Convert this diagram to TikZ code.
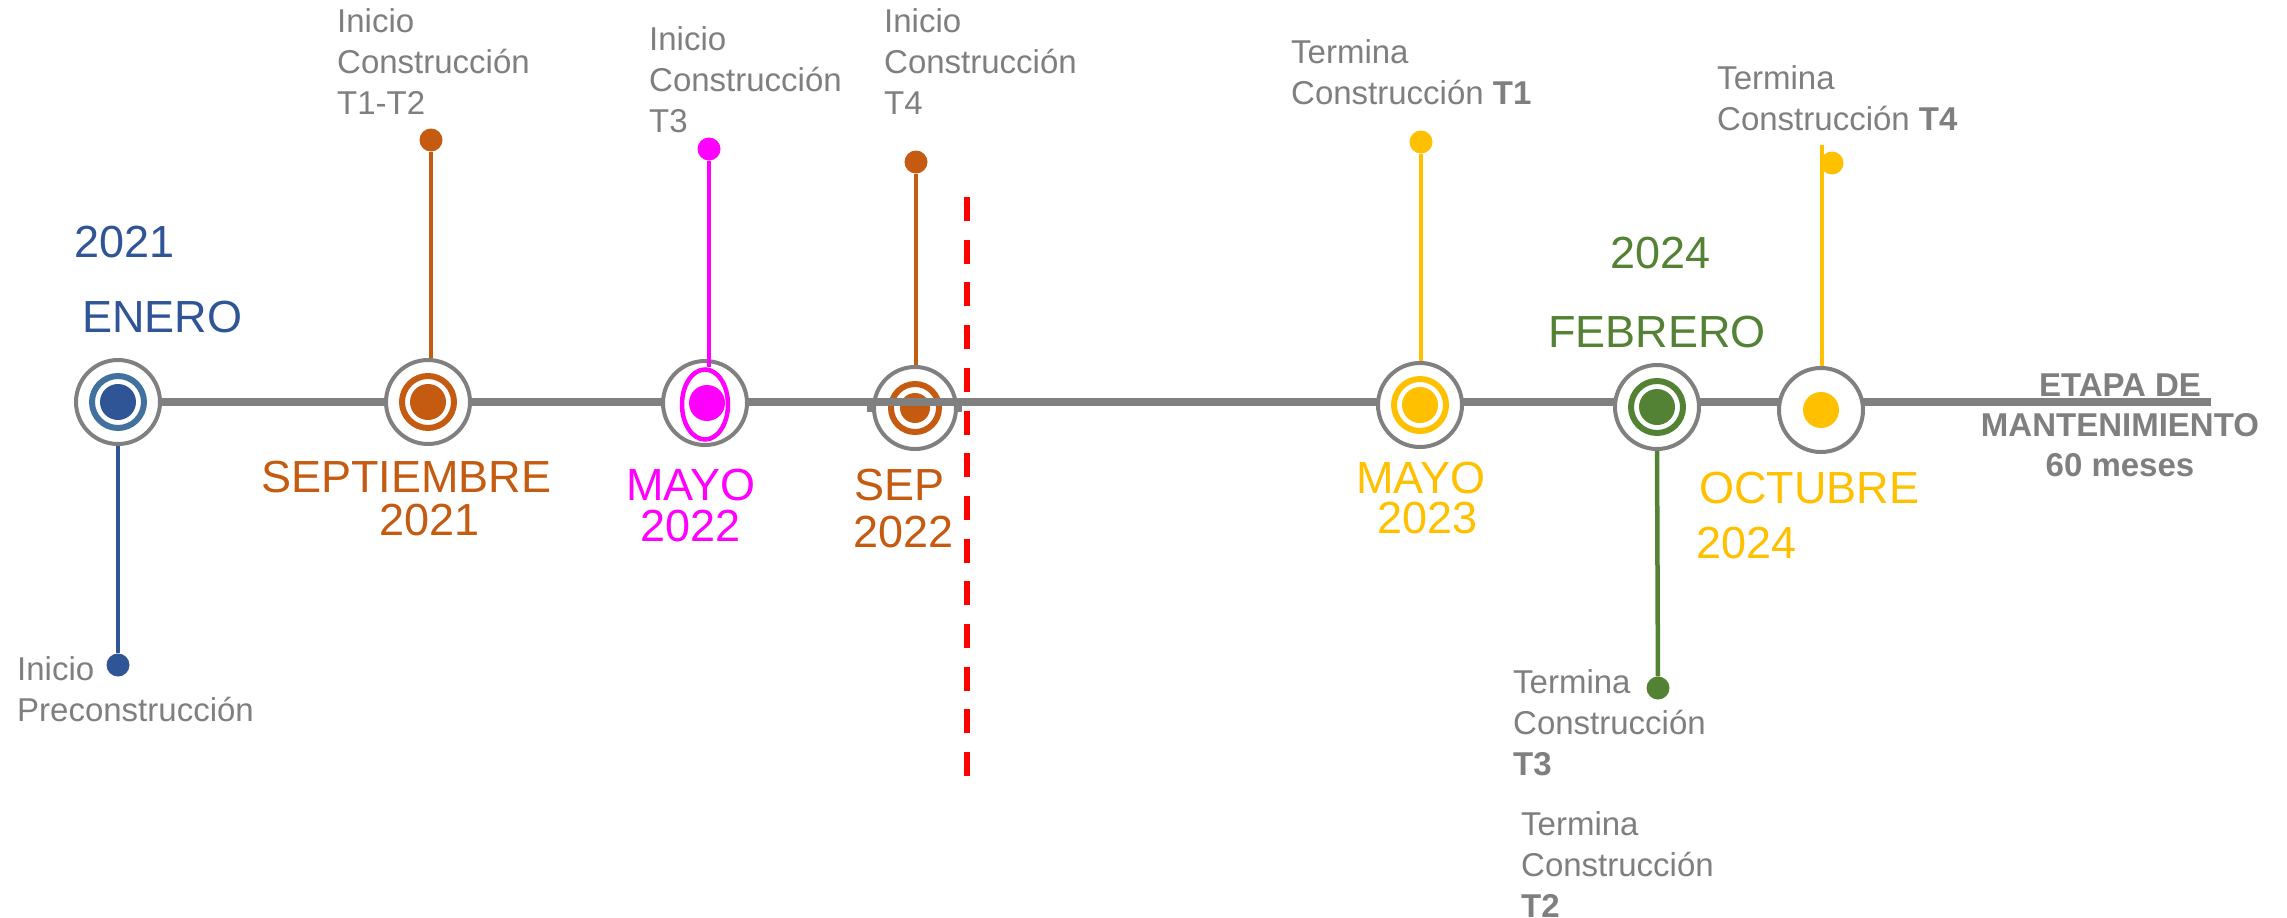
\documentclass[tikz,border=0pt]{standalone}
\usepackage{fontspec}
\setmainfont{Liberation Sans}
\usetikzlibrary{shapes.geometric}
\definecolor{tlgray}{HTML}{808080}
\definecolor{txtgray}{HTML}{7F7F7F}
\definecolor{cblue}{HTML}{2F5597}
\definecolor{cblueR}{HTML}{41719C}
\definecolor{corange}{HTML}{C55A11}
\definecolor{cmag}{HTML}{FF00FF}
\definecolor{cyel}{HTML}{FFC000}
\definecolor{cgreen}{HTML}{548235}
\definecolor{cred}{HTML}{FF0000}
\tikzset{
  outerc/.style={circle, draw=tlgray, line width=4pt, fill=white, minimum size=84pt, inner sep=0pt},
  ringc/.style={circle, draw=#1, line width=6pt, minimum size=52pt, inner sep=0pt},
  dotc/.style={circle, fill=#1, minimum size=36pt, inner sep=0pt},
  pinc/.style={circle, fill=#1, minimum size=23pt, inner sep=0pt},
  conn/.style={draw=#1, line width=4.5pt},
  big/.style={text=#1, font=\fontsize{45}{54}\selectfont, anchor=base west, inner sep=0pt},
  lbl/.style={text=txtgray, font=\fontsize{33}{41}\selectfont, align=left, anchor=north west, inner sep=0pt},
  timeline/.style={draw=tlgray, line width=8pt}
}
\begin{document}
\begin{tikzpicture}[x=1pt, y=-1pt]
\useasboundingbox[fill=white] (0,0) rectangle (2287,918);
% timeline
\coordinate (tlstart) at (118,402);
\coordinate (tlend) at (2211,402);
\draw[timeline] (tlstart) -- (tlend);
% red dashed separator
\coordinate (rtop) at (967,197);
\coordinate (rbot) at (967,792);
\draw[cred, line width=6pt, dash pattern=on 24pt off 18.7pt] (rtop) -- (rbot);
% nub bar under SEP 2022
\fill[tlgray] (867,398) rectangle (962,412);
% circles
\node[outerc] (c1) at (118,402) {};
\node[ringc=cblueR] (c1r) at (118,402) {};
\node[dotc=cblue] (c1d) at (118,402) {};

\node[outerc] (c2) at (428,402) {};
\node[ringc=corange] (c2r) at (428,402) {};
\node[dotc=corange] (c2d) at (428,402) {};

\node[outerc] (c3) at (705,403) {};
\node[ellipse, draw=cmag, line width=4.5pt, minimum width=46pt, minimum height=70pt, inner sep=0pt] (c3r) at (705,404.5) {};
\node[dotc=cmag] (c3d) at (707,403) {};

\node[outerc, minimum size=82pt] (c4) at (915,408) {};
\node[ringc=corange, minimum size=48pt] (c4r) at (915,408) {};
\node[dotc=corange, minimum size=30pt] (c4d) at (915,408) {};
\draw[timeline] (867,402) -- (962,402);

\node[outerc] (c5) at (1420,405) {};
\node[ringc=cyel] (c5r) at (1420,405) {};
\node[dotc=cyel] (c5d) at (1420,405) {};

\node[outerc] (c6) at (1657,407) {};
\node[ringc=cgreen] (c6r) at (1657,407) {};
\node[dotc=cgreen] (c6d) at (1657,407) {};

\node[outerc] (c7) at (1821,410) {};
\node[dotc=cyel] (c7d) at (1821,410) {};

% pins and connectors
\node[pinc=cblue] (p1) at (118,665) {};
\draw[conn=cblue] (c1.south) -- (p1);

\node[pinc=corange] (p2) at (431,140) {};
\draw[conn=corange] (p2) -- (p2 |- c2.north);

\node[pinc=cmag] (p3) at (709,149) {};
\draw[conn=cmag] (p3) -- (p3 |- c3r.north);

\node[pinc=corange] (p4) at (916,162) {};
\draw[conn=corange] (p4) -- (p4 |- c4.north);

\node[pinc=cyel] (p5) at (1421,142) {};
\draw[conn=cyel] (p5) -- (p5 |- c5.north);

\node[pinc=cyel] (p6) at (1832,163) {};
\coordinate (t4top) at (1822,145);
\draw[conn=cyel] (t4top) -- (t4top |- c7.north);

\node[pinc=cgreen] (p7) at (1658,688) {};
\draw[conn=cgreen] (c6.south) -- (p7);

% big date labels
\node[big=cblue] (y2021a) at (74,257) {2021};
\node[big=cblue] (enero) at (82,332) {ENERO};
\node[big=corange] (sept) at (261,492) {SEPTIEMBRE};
\node[big=corange] (y2021b) at (379,535) {2021};
\node[big=cmag] (mayoa) at (626,500) {MAYO};
\node[big=cmag] (y2022a) at (640,541) {2022};
\node[big=corange] (sep) at (854,500) {SEP};
\node[big=corange] (y2022b) at (853,547) {2022};
\node[big=cyel] (mayob) at (1356,493) {MAYO};
\node[big=cyel] (y2023) at (1377,533) {2023};
\node[big=cgreen] (y2024a) at (1610,268) {2024};
\node[big=cgreen] (febrero) at (1548,347) {FEBRERO};
\node[big=cyel] (octubre) at (1699,503) {OCTUBRE};
\node[big=cyel] (y2024b) at (1696,558) {2024};

% gray labels (top = first baseline - cap height)
\node[lbl] (lpre) at (17,656.4) {Inicio\\Preconstrucción};
\node[lbl] (lt12) at (337,8.4) {Inicio\\Construcción\\T1-T2};
\node[lbl] (lt3) at (649,26.4) {Inicio\\Construcción\\T3};
\node[lbl] (lt4) at (884,8.4) {Inicio\\Construcción\\T4};
\node[lbl] (ft1) at (1291,39.4) {Termina\\Construcción \textbf{T1}};
\node[lbl] (ft4) at (1717,65.4) {Termina\\Construcción \textbf{T4}};
\node[lbl] (ft3) at (1513,669.4) {Termina\\Construcción\\\textbf{T3}};
\node[lbl] (ft2) at (1521,811.4) {Termina\\Construcción\\\textbf{T2}};
\node[text=txtgray, font=\fontsize{33}{40}\selectfont\bfseries, align=center, anchor=north, inner sep=0pt] (etapa) at (2120,373.4) {ETAPA DE\\MANTENIMIENTO\\60 meses};
\end{tikzpicture}
\end{document}
